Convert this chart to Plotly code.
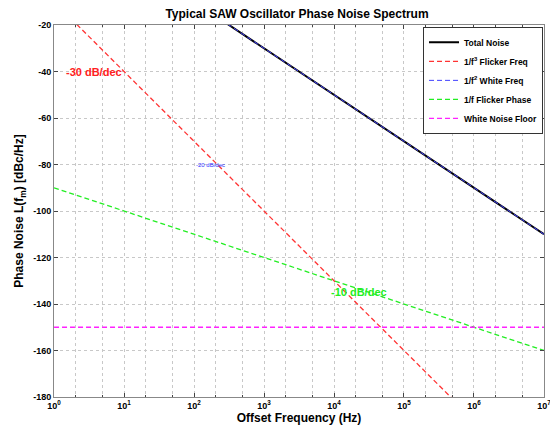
import numpy as np
import plotly.graph_objects as go

# Data
freq = [1, 10, 100, 1e3, 1e4, 1e5, 1e6, 1e7]
flicker_freq_db = [-10, -40, -70, -100, -130, -160, -190, -220]   # 1/f^3, -30 dB/dec
white_freq_db = [30, 10, -10, -30, -50, -70, -90, -110]           # 1/f^2, -20 dB/dec
flicker_phase_db = [-90, -100, -110, -120, -130, -140, -150, -160] # 1/f, -10 dB/dec
floor_db = [-150, -150, -150, -150, -150, -150, -150, -150]
total_db = [float(10*np.log10(sum(10**(v/10) for v in vals)))
            for vals in zip(flicker_freq_db, white_freq_db, flicker_phase_db, floor_db)]

xtick_vals = [1, 10, 100, 1e3, 1e4, 1e5, 1e6, 1e7]
xtick_text = ["<b>10<sup>%d</sup></b>" % i for i in range(8)]
ytick_vals = [-180, -160, -140, -120, -100, -80, -60, -40, -20]

dash = "5px,3px"
fig = go.Figure()
fig.add_trace(go.Scatter(x=freq, y=total_db, mode="lines", name="Total Noise",
                         line=dict(color="black", width=2)))
fig.add_trace(go.Scatter(x=freq, y=flicker_freq_db, mode="lines", name="1/f<sup>3</sup> Flicker Freq",
                         line=dict(color="#ff3333", width=1.3, dash=dash)))
fig.add_trace(go.Scatter(x=freq, y=white_freq_db, mode="lines", name="1/f<sup>2</sup> White Freq",
                         line=dict(color="#4040ff", width=1, dash=dash)))
fig.add_trace(go.Scatter(x=freq, y=flicker_phase_db, mode="lines", name="1/f Flicker Phase",
                         line=dict(color="#22ee22", width=1.3, dash=dash)))
fig.add_trace(go.Scatter(x=freq, y=floor_db, mode="lines", name="White Noise Floor",
                         line=dict(color="#ff22ff", width=1.3, dash=dash)))

fig.add_annotation(x=np.log10(1.4), y=-40, text="<b>-30 dB/dec</b>", showarrow=False,
                   xanchor="left", font=dict(color="#ff2020", size=11, family="Liberation Sans"))
fig.add_annotation(x=np.log10(100), y=-80, text="-20 dB/dec", showarrow=False,
                   xanchor="left", font=dict(color="#3030ff", size=6, family="Liberation Sans"))
fig.add_annotation(x=np.log10(0.85e4), y=-135, text="<b>-10 dB/dec</b>", showarrow=False,
                   xanchor="left", font=dict(color="#22ee22", size=11, family="Liberation Sans"))

grid = "#c8c8c8"
fig.update_xaxes(type="log", range=[-0.0005, 7.0005], tickvals=xtick_vals, ticktext=xtick_text,
                 showgrid=True, gridcolor=grid, griddash="dot", gridwidth=1,
                 minor=dict(showgrid=True, gridcolor=grid, griddash="dot", ticks="inside",
                            ticklen=2, tickcolor="#444"),
                 ticks="inside", ticklen=4, tickcolor="#444", mirror="allticks",
                 showline=True, linecolor="#888", linewidth=1, zeroline=False, automargin=False,
                 ticklabeloverflow="allow",
                 title=dict(text="<b>Offset Frequency (Hz)</b>", font=dict(size=12), standoff=0),
                 tickfont=dict(size=9))
fig.update_yaxes(range=[-180, -20], tickvals=ytick_vals,
                 ticktext=["<b>%d</b>" % v for v in ytick_vals],
                 showgrid=True, gridcolor=grid, griddash="dot", gridwidth=1,
                 ticks="inside", ticklen=4, tickcolor="#444", mirror="allticks",
                 showline=True, linecolor="#888", linewidth=1, zeroline=False, automargin=False,
                 title=dict(text="<b>Phase Noise L(f<sub>m</sub>) [dBc/Hz]</b>", font=dict(size=12), standoff=6),
                 tickfont=dict(size=9))

fig.update_layout(
    width=550, height=425,
    margin=dict(l=54, r=6, t=25, b=28, autoexpand=False),
    paper_bgcolor="white", plot_bgcolor="white",
    font=dict(family="Liberation Sans", color="black"),
    title=dict(text="<b>Typical SAW Oscillator Phase Noise Spectrum</b>", x=0.54, xanchor="center",
               y=0.968, yanchor="middle", font=dict(size=12)),
    showlegend=True,
    legend=dict(x=0.998, y=0.995, xanchor="right", yanchor="top",
                bgcolor="white", bordercolor="#333", borderwidth=1,
                font=dict(size=8.5, family="Liberation Sans"),
                tracegroupgap=0, itemwidth=30),
)
for tr in fig.data:
    tr.name = "<b>" + tr.name + "</b>"

fig.write_html("out.html", config={"displayModeBar": False},
               post_script="document.body.style.margin='0px';")
